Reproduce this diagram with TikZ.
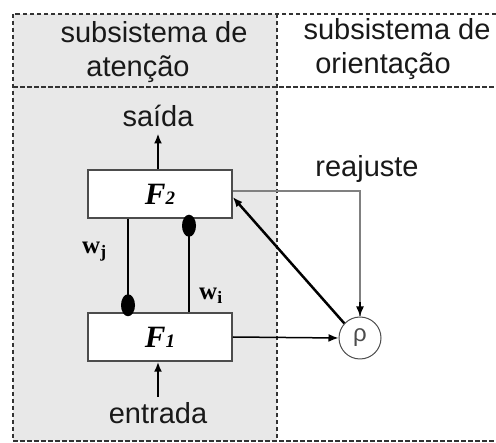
\documentclass[tikz,border=0pt]{standalone}
\usepackage{fontspec}
\setmainfont{Liberation Serif}
\setsansfont{Liberation Sans}
\usetikzlibrary{arrows.meta}
\usetikzlibrary{shapes.geometric}
\definecolor{bgg}{rgb}{.91,.91,.91}
\definecolor{edge}{rgb}{.3,.3,.3}
\definecolor{fb}{rgb}{.5,.5,.5}
\tikzstyle{frame}=[dash pattern=on 4.5pt off 2.5pt, line width=1.8pt, draw=black!80]
\tikzstyle{box}=[rectangle, draw=edge, line width=1.5pt, fill=white, minimum width=144pt, minimum height=48pt, inner sep=0pt]
\tikzstyle{lbl}=[font=\fontsize{29}{30}\selectfont\sffamily, inner sep=0pt, anchor=base, text=black!90]
\tikzstyle{wdot}=[ellipse, fill=black, inner sep=0pt, minimum width=14pt, minimum height=22pt]
\newcommand{\Flabel}[1]{\fontsize{31}{31}\selectfont\bfseries\itshape F{\fontsize{19}{19}\selectfont #1}}
\newcommand{\wlabel}[1]{\fontsize{25}{25}\selectfont\bfseries w\textsubscript{#1}}

\begin{document}
\begin{tikzpicture}[x=1pt, y=-1pt, >={Latex[length=10pt, width=8pt]}]
      \useasboundingbox (0,0) rectangle (496,443);

      % fundo e moldura
      \fill[bgg] (13,14) rectangle (277,441);
      \draw[frame] (496,14) -- (13,14) -- (13,441) -- (496,441);
      \draw[frame] (13,87) -- (496,87);
      \draw[frame] (277,14) -- (277,441);

      % cabecalho
      \node[lbl] (sa1) at (154,43) {subsistema de};
      \node[lbl] (sa2) at (138,77) {atenção};
      \node[lbl] (so1) at (397,40) {subsistema de};
      \node[lbl] (so2) at (383,74) {orientação};

      % camadas
      \node[box] (F2) at (160,194) {\Flabel{2}};
      \node[box] (F1) at (160,337) {\Flabel{1}};
      \node[circle, draw=edge, line width=1pt, minimum size=42pt, inner sep=0pt,
            font=\fontsize{24}{24}\selectfont\sffamily, text=black!70] (rho) at (360,338) {ρ};

      \node[lbl] (saida) at (158,127) {saída};
      \node[lbl] (entrada) at (158,424) {entrada};
      \node[lbl] (reaj) at (367,177) {reajuste};

      \node[anchor=base west, inner sep=0pt] (wj) at (82,254) {\wlabel{j}};
      \node[anchor=base west, inner sep=0pt] (wi) at (199,300) {\wlabel{i}};

      % entrada / saida
      \draw[->, line width=2pt, shorten >=6pt] (saida.south |- F2.north) -- (saida.south);
      \draw[->, line width=2pt] ([yshift=6pt]entrada.north) -- (entrada.north |- F1.south);

      % pesos
      \draw[line width=2.5pt] ([xshift=-32pt]F2.south) -- ([xshift=-32pt]F1.north);
      \draw[line width=2.5pt] ([xshift=29pt]F1.north) -- ([xshift=29pt]F2.south);
      \node[wdot] (dj) at ([xshift=-32pt,yshift=7pt]F1.north) {};
      \node[wdot] (di) at ([xshift=29pt,yshift=-7pt]F2.south) {};

      % orientacao
      \draw[fb, line width=1.5pt] ([yshift=3pt]F2.east) -| (rho.north);
      \draw[->, line width=1.5pt] (rho.north) ++(0,-14) -- (rho.north);
      \draw[->, line width=2.5pt] (rho.137) -- ([yshift=-3pt]F2.east);
      \draw[->, line width=1.5pt] (F1.east) -- (rho.west);

\end{tikzpicture}
\end{document}
